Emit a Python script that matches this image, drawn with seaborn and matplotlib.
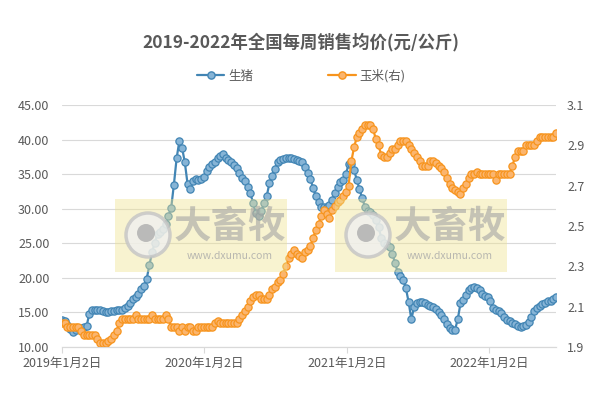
import matplotlib
matplotlib.use("Agg")
import matplotlib.pyplot as plt
import numpy as np
import pandas as pd
import seaborn as sns
from matplotlib.lines import Line2D
from matplotlib.patches import Rectangle, Circle

sns.set_style("white")
plt.rcParams['font.family'] = ['Noto Sans CJK SC', 'DejaVu Sans']

# weekly prices, first week 2019-01-02
start_date = '2019-01-02'
pig_price = [
    13.9, 13.7, 13.2, 12.6, 12.2, 12.5, 12.7, 12.8, 12.9, 13.0,
    14.8, 15.3, 15.4, 15.3, 15.3, 15.2, 15.0, 15.0, 15.2, 15.2,
    15.3, 15.3, 15.4, 15.6, 15.9, 16.4, 17.0, 17.2, 17.6, 18.4,
    18.8, 19.8, 21.8, 23.7, 25.1, 26.3, 26.7, 27.1, 27.8, 29.0,
    30.1, 33.5, 37.3, 39.8, 38.8, 36.7, 33.6, 32.8, 34.0, 34.3,
    34.1, 34.3, 34.6, 35.4, 36.0, 36.4, 36.7, 37.3, 37.6, 37.9,
    37.4, 37.0, 36.7, 36.3, 35.9, 35.2, 34.5, 34.0, 33.2, 32.3,
    30.8, 29.4, 29.0, 29.6, 30.8, 31.8, 33.7, 34.8, 35.8, 36.8,
    37.1, 37.2, 37.3, 37.4, 37.3, 37.2, 37.0, 36.9, 36.7, 36.1,
    35.2, 34.3, 33.0, 31.8, 31.0, 30.3, 30.3, 30.3, 30.5, 31.2,
    32.3, 33.2, 33.8, 34.1, 35.0, 36.4, 36.4, 35.6, 34.2, 32.8,
    31.5, 30.3, 29.6, 29.5, 29.1, 28.4, 27.3, 25.8, 25.0, 24.7,
    24.5, 23.5, 22.2, 20.8, 20.2, 19.7, 18.5, 16.5, 14.0, 15.8,
    16.4, 16.5, 16.5, 16.3, 16.1, 16.0, 15.8, 15.5, 15.1, 14.6,
    14.0, 13.3, 12.7, 12.5, 12.5, 14.0, 16.3, 16.8, 17.5, 18.3,
    18.6, 18.7, 18.6, 18.3, 17.7, 17.4, 17.2, 16.6, 15.7, 15.4,
    15.2, 14.9, 14.3, 13.9, 13.7, 13.5, 13.3, 13.1, 12.9, 13.0,
    13.2, 13.6, 14.4, 15.2, 15.6, 15.9, 16.2, 16.4, 16.6, 16.7,
    16.9, 17.3,
]
corn_price = [
    2.02, 2.02, 2.00, 2.00, 2.00, 2.00, 2.00, 1.98, 1.96, 1.96,
    1.96, 1.96, 1.96, 1.94, 1.92, 1.92, 1.92, 1.93, 1.94, 1.96,
    1.98, 2.02, 2.04, 2.04, 2.04, 2.04, 2.04, 2.06, 2.04, 2.04,
    2.04, 2.04, 2.04, 2.06, 2.04, 2.04, 2.04, 2.04, 2.06, 2.04,
    2.00, 2.00, 2.00, 1.98, 2.00, 1.98, 2.00, 2.00, 1.98, 1.98,
    2.00, 2.00, 2.00, 2.00, 2.00, 2.00, 2.02, 2.03, 2.02, 2.02,
    2.02, 2.02, 2.02, 2.02, 2.02, 2.04, 2.06, 2.08, 2.10, 2.13,
    2.15, 2.16, 2.16, 2.14, 2.14, 2.14, 2.16, 2.19, 2.20, 2.22,
    2.23, 2.26, 2.30, 2.34, 2.36, 2.38, 2.36, 2.35, 2.34, 2.37,
    2.38, 2.40, 2.44, 2.48, 2.51, 2.55, 2.58, 2.56, 2.54, 2.58,
    2.60, 2.62, 2.63, 2.65, 2.67, 2.70, 2.82, 2.89, 2.94, 2.96,
    2.98, 3.00, 3.00, 3.00, 2.98, 2.93, 2.90, 2.85, 2.84, 2.84,
    2.86, 2.88, 2.88, 2.90, 2.92, 2.92, 2.92, 2.90, 2.88, 2.86,
    2.84, 2.82, 2.80, 2.80, 2.80, 2.82, 2.82, 2.81, 2.80, 2.79,
    2.77, 2.74, 2.71, 2.69, 2.68, 2.67, 2.66, 2.69, 2.71, 2.74,
    2.76, 2.76, 2.77, 2.76, 2.76, 2.76, 2.76, 2.76, 2.76, 2.73,
    2.76, 2.76, 2.76, 2.76, 2.76, 2.80, 2.84, 2.87, 2.87, 2.87,
    2.90, 2.90, 2.90, 2.90, 2.92, 2.94, 2.94, 2.94, 2.94, 2.94,
    2.94, 2.96,
]
year_ticks = ['2019-01-02', '2020-01-02', '2021-01-02', '2022-01-02']
series_names = ['生猪', '玉米(右)']
title = '2019-2022年全国每周销售均价(元/公斤)'

dates = pd.date_range(start_date, periods=len(pig_price), freq='7D')
df = pd.DataFrame({'date': dates, 'pig': pig_price, 'corn': corn_price})

BLUE = '#4285b4'
BLUE_FACE = '#86b4d6'
ORANGE = '#f7941d'
ORANGE_FACE = '#fbb56e'
GRID = '#d9d9d9'
TEXT = '#595959'

fig = plt.figure(figsize=(6.02, 3.94), dpi=100)
ax = fig.add_axes([62 / 602, 1 - 347 / 394, (556 - 62) / 602, (347 - 105) / 394])
ax2 = ax.twinx()

sns.lineplot(ax=ax, data=df, x='date', y='pig', color=BLUE, linewidth=1.6,
             marker='o', markersize=5.2, markerfacecolor=BLUE_FACE,
             markeredgecolor=BLUE, markeredgewidth=0.9)
sns.lineplot(ax=ax2, data=df, x='date', y='corn', color=ORANGE, linewidth=1.6,
             marker='o', markersize=5.2, markerfacecolor=ORANGE_FACE,
             markeredgecolor=ORANGE, markeredgewidth=0.9)

ax.set_xlim(dates[0], dates[-1])
ax.set_ylim(10, 45)
ax.set_yticks(np.arange(10, 46, 5))
ax.yaxis.set_major_formatter(matplotlib.ticker.FormatStrFormatter('%.2f'))
ax2.set_ylim(1.9, 3.1)
ax2.set_yticks(np.arange(1.9, 3.11, 0.2))
ax2.yaxis.set_major_formatter(matplotlib.ticker.FormatStrFormatter('%.1f'))

ticks = pd.to_datetime(year_ticks)
ax.set_xticks(ticks)
ax.set_xticklabels([f'{t.year}年{t.month}月{t.day}日' for t in ticks])

ax.grid(axis='y', color=GRID, linewidth=0.8)
ax.grid(axis='x', visible=False)
ax2.grid(False)
for a in (ax, ax2):
    a.set_xlabel('')
    a.set_ylabel('')
    for side in ('left', 'right', 'top'):
        a.spines[side].set_visible(False)
    a.spines['bottom'].set_color(GRID)
ax.tick_params(axis='y', length=0, pad=9, labelsize=9, labelcolor=TEXT)
ax2.tick_params(axis='y', length=0, pad=8, labelsize=9, labelcolor=TEXT)
ax.tick_params(axis='x', length=4, color=GRID, pad=3, labelsize=9, labelcolor=TEXT,
               direction='out', bottom=True)

fig.text(0.5, 1 - 42 / 394, title, ha='center', va='center', fontsize=12.5,
         fontweight='bold', color=TEXT)
handles = [
    Line2D([], [], color=BLUE, linewidth=1.6, marker='o', markersize=5.2,
           markerfacecolor=BLUE_FACE, markeredgecolor=BLUE),
    Line2D([], [], color=ORANGE, linewidth=1.6, marker='o', markersize=5.2,
           markerfacecolor=ORANGE_FACE, markeredgecolor=ORANGE),
]
fig.legend(handles, series_names, loc='center', bbox_to_anchor=(0.5, 1 - 76 / 394),
           ncol=2, frameon=False, fontsize=9, labelcolor=TEXT, handlelength=2.2,
           handletextpad=0.3, columnspacing=6)

# watermark boxes
def px(x, y):
    return x / 602, 1 - y / 394

for x0 in (115, 335):
    fig.add_artist(Rectangle(px(x0, 272), 172 / 602, 73 / 394, transform=fig.transFigure,
                             facecolor='#efe38f', alpha=0.42, edgecolor='none', zorder=10))
    fig.add_artist(Circle((x0 + 33, 394 - 235), 22, transform=None, facecolor='#f0f0f0',
                          edgecolor='#c4c4c4', linewidth=2.5, alpha=0.8, zorder=11))
    fig.add_artist(Circle((x0 + 31, 394 - 233), 9, transform=None, facecolor='#adadad',
                          edgecolor='none', alpha=0.8, zorder=12))
    tx, ty = px(x0 + 115, 226)
    fig.text(tx, ty, '大畜牧', ha='center', va='center', fontsize=27, fontweight='bold',
             color='#a3a3a3', alpha=0.6, zorder=12)
    tx, ty = px(x0 + 115, 256)
    fig.text(tx, ty, 'www.dxumu.com', ha='center', va='center', fontsize=7.5,
             color='#a8a8a8', alpha=0.8, zorder=12)

fig.savefig('out.png', dpi=100)
